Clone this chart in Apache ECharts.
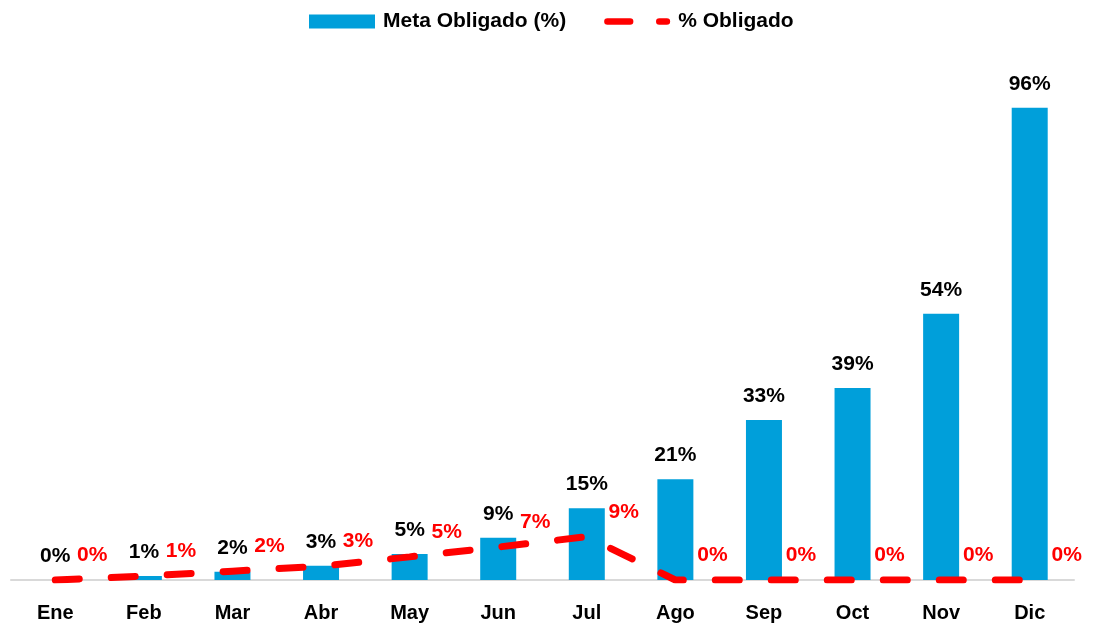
<!DOCTYPE html>
<html>
<head>
<meta charset="utf-8">
<script src="https://cdn.jsdelivr.net/npm/echarts@6/dist/echarts.min.js"></script>
<style>html,body{margin:0;padding:0;background:#fff}#c{width:1100px;height:624px}</style>
</head>
<body>
<div id="c"></div>
<script>
var categories = ['Ene','Feb','Mar','Abr','May','Jun','Jul','Ago','Sep','Oct','Nov','Dic'];
var metaObligado = [0, 0.8, 1.7, 2.9, 5.3, 8.6, 14.6, 20.5, 32.5, 39.0, 54.1, 96.0];
var pctObligado = [0, 0.8, 1.8, 2.8, 4.7, 6.7, 8.8, 0, 0, 0, 0, 0];

var FONT = '"Liberation Sans", Arial, sans-serif';
var dashIcon = 'path://M3.5,3.5 L27.5,3.5 A3.5,3.5 0 0 1 27.5,10.5 L3.5,10.5 A3.5,3.5 0 0 1 3.5,3.5 Z ' +
               'M58.5,3.5 L66.5,3.5 A3.5,3.5 0 0 1 66.5,10.5 L58.5,10.5 A3.5,3.5 0 0 1 58.5,3.5 Z';
var chart = echarts.init(document.getElementById('c'));
chart.setOption({
  animation: false,
  textStyle: { fontFamily: FONT },
  legend: {
    top: 6,
    left: 304,
    itemGap: 38,
    itemWidth: 66,
    itemHeight: 14,
    textStyle: { fontFamily: FONT, fontWeight: 'bold', fontSize: 21, color: '#000', padding: [0, 0, 0, 3] },
    data: [
      { name: 'Meta Obligado (%)', icon: 'rect' },
      { name: '% Obligado', icon: dashIcon }
    ]
  },
  grid: { left: 11, right: 26, top: 88, bottom: 44 },
  xAxis: {
    type: 'category',
    data: categories,
    axisTick: { show: false },
    axisLine: { lineStyle: { color: '#d9d9d9', width: 2 } },
    axisLabel: { fontFamily: FONT, fontWeight: 'bold', fontSize: 20, color: '#000', margin: 23 }
  },
  yAxis: {
    type: 'value', min: 0, max: 100, show: false,
    splitLine: { show: false }
  },
  series: [
    {
      name: 'Meta Obligado (%)',
      type: 'bar',
      data: metaObligado,
      barWidth: 36,
      itemStyle: { color: '#009fda' },
      label: {
        show: true, position: 'top', distance: 13,
        fontFamily: FONT, fontWeight: 'bold', fontSize: 21, color: '#000',
        formatter: function (p) { return Math.round(p.value) + '%'; }
      }
    },
    {
      name: '% Obligado',
      type: 'line',
      data: pctObligado,
      symbol: 'circle',
      symbolSize: 0.1,
      itemStyle: { color: '#ff0000' },
      lineStyle: { color: '#ff0000', width: 7, type: [24, 32], cap: 'round' },
      z: 5,
      label: {
        show: true, position: 'top', offset: [37, -9],
        fontFamily: FONT, fontWeight: 'bold', fontSize: 21, color: '#ff0000',
        formatter: function (p) { return Math.round(p.value) + '%'; }
      }
    }
  ]
});
</script>
</body>
</html>
